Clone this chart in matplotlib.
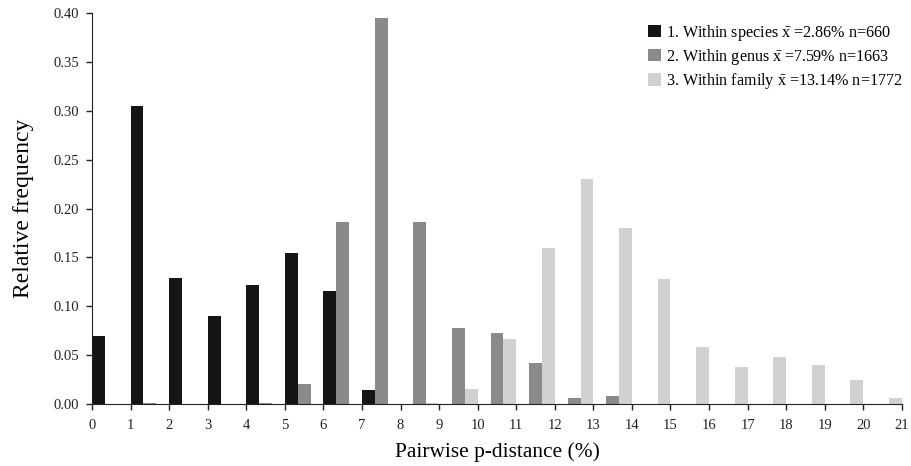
import numpy as np
import matplotlib
matplotlib.use("Agg")
import matplotlib.pyplot as plt

plt.rcParams['font.family'] = ['Liberation Serif', 'DejaVu Serif']
plt.rcParams['mathtext.fontset'] = 'custom'
plt.rcParams['mathtext.rm'] = 'Liberation Serif'
plt.rcParams['mathtext.it'] = 'Liberation Serif:italic'

# bins of pairwise p-distance (%), one group of three bars per bin
bins = np.arange(21)

species = [0.070, 0.305, 0.129, 0.090, 0.122, 0.155, 0.116, 0.014,
           0, 0, 0, 0, 0, 0, 0, 0, 0, 0, 0, 0, 0]
genus = [0, 0.001, 0, 0, 0.001, 0.0205, 0.186, 0.395, 0.186, 0.078, 0.073,
         0.042, 0.0065, 0.0085, 0, 0, 0, 0, 0, 0, 0]
family = [0, 0, 0, 0, 0, 0, 0, 0, 0.001, 0.015, 0.0665, 0.160, 0.230,
          0.180, 0.128, 0.058, 0.038, 0.048, 0.040, 0.0245, 0.006]

labels = [r'1. Within species $\bar{\mathrm{x}}$ =2.86% n=660',
          r'2. Within genus $\bar{\mathrm{x}}$ =7.59% n=1663',
          r'3. Within family $\bar{\mathrm{x}}$ =13.14% n=1772']
colors = ['#151515', '#8a8a8b', '#d0d1d3']

fig = plt.figure(figsize=(9.11, 4.66), dpi=100)
ax = fig.add_axes([0.101, 0.133, 0.889, 0.839])

w = 1 / 3
for k, vals in enumerate([species, genus, family]):
    ax.bar(bins + k * w, vals, width=w, align='edge', color=colors[k],
           label=labels[k])

ax.set_xlim(0, 21)
ax.set_ylim(0, 0.40)
ax.set_xticks(np.arange(22))
ax.set_yticks(np.arange(0, 0.41, 0.05))
ax.set_yticklabels(['%.2f' % v for v in np.arange(0, 0.41, 0.05)])
ax.tick_params(direction='out', length=4, width=1, labelsize=10.5, colors='#222222')
ax.tick_params(axis='y', pad=5.5)
ax.tick_params(axis='x', pad=7)

for s in ['top', 'right']:
    ax.spines[s].set_visible(False)
for s in ['left', 'bottom']:
    ax.spines[s].set_color('#222222')

ax.set_xlabel('Pairwise p-distance (%)', fontsize=15.4, labelpad=7)
ax.set_ylabel('Relative frequency', fontsize=17, labelpad=14)

ax.legend(loc='upper right', bbox_to_anchor=(1.012, 1.0), frameon=False,
          fontsize=11.6, handlelength=0.8, handleheight=0.8,
          handletextpad=0.3, labelspacing=0.26, borderaxespad=0.2)

fig.savefig('out.png', dpi=100)
